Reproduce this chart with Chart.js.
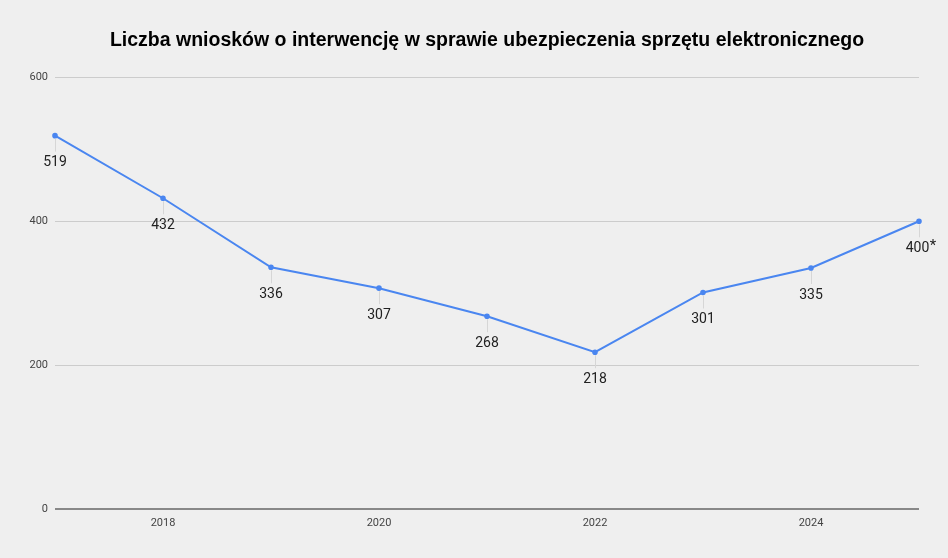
<!DOCTYPE html>
<html lang="pl">
<head>
<meta charset="UTF-8" />
<title>Liczba wniosków o interwencję</title>
<script src="https://cdn.jsdelivr.net/npm/chart.js"></script>
<style>
  html, body { margin: 0; padding: 0; background: #efefef; }
  #wrap { width: 948px; height: 558px; }
</style>
</head>
<body>
<div id="wrap"><canvas id="lineChart"></canvas></div>
<script>
// dane z wykresu
const years = ['2017', '2018', '2019', '2020', '2021', '2022', '2023', '2024', '2025'];
const wnioski = [519, 432, 336, 307, 268, 218, 301, 335, 400];
const pointLabels = ['519', '432', '336', '307', '268', '218', '301', '335', '400*'];
const yTicks = [0, 200, 400, 600];
const shownYears = ['2018', '2020', '2022', '2024'];

// etykiety pod punktami z cienką kreską
const valueLabels = {
  id: 'valueLabels',
  afterDatasetsDraw(chart) {
    const ctx = chart.ctx;
    const meta = chart.getDatasetMeta(0);
    ctx.save();
    meta.data.forEach((pt, i) => {
      ctx.strokeStyle = '#d6d6d6';
      ctx.lineWidth = 1;
      ctx.beginPath();
      ctx.moveTo(Math.round(pt.x) + 0.5, pt.y + 3);
      ctx.lineTo(Math.round(pt.x) + 0.5, pt.y + 16);
      ctx.stroke();
      ctx.fillStyle = '#222';
      ctx.font = '14px Roboto';
      ctx.textAlign = 'center';
      ctx.textBaseline = 'middle';
      let txt = pointLabels[i];
      const star = txt.endsWith('*');
      if (star) txt = txt.slice(0, -1);
      const x = pt.x - (star ? 1.5 : 0);
      ctx.fillText(txt, x, pt.y + 27);
      if (star) {
        // gwiazdka jako indeks górny
        const w = ctx.measureText(txt).width;
        ctx.textAlign = 'left';
        ctx.font = '15px Roboto';
        ctx.fillText('*', x + w / 2 + 0.5, pt.y + 25);
      }
    });
    ctx.restore();
  }
};

new Chart(document.getElementById('lineChart'), {
  type: 'line',
  data: {
    labels: years,
    datasets: [{
      data: wnioski,
      borderColor: '#4a86f0',
      backgroundColor: '#4a86f0',
      borderWidth: 2,
      pointRadius: 1.8,
      pointHoverRadius: 3,
      tension: 0
    }]
  },
  options: {
    responsive: true,
    maintainAspectRatio: false,
    animation: false,
    layout: { padding: { left: 0, right: 29, top: 0, bottom: 0 } },
    plugins: {
      legend: { display: false },
      tooltip: { enabled: false },
      title: {
        display: true,
        fullSize: false,
        text: 'Liczba wniosków o interwencję w sprawie ubezpieczenia sprzętu elektronicznego',
        color: '#000',
        font: { family: 'Liberation Sans', size: 19.5, weight: 'bold' },
        padding: { top: 29, bottom: 25 }
      }
    },
    scales: {
      x: {
        offset: false,
        grid: { display: false, drawTicks: false },
        border: { display: false },
        ticks: {
          autoSkip: false,
          maxRotation: 0,
          padding: 8,
          color: '#444',
          font: { family: 'Roboto', size: 11 },
          callback: function (v, i) {
            const y = years[i];
            return shownYears.includes(y) ? y : '';
          }
        },
        afterFit: s => { s.height = 49; }
      },
      y: {
        min: yTicks[0],
        max: yTicks[yTicks.length - 1],
        grid: {
          drawTicks: false,
          color: ctx => ctx.tick && ctx.tick.value === 0 ? '#888' : '#cccccc',
          lineWidth: ctx => ctx.tick && ctx.tick.value === 0 ? 2 : 1
        },
        border: { display: false },
        ticks: {
          stepSize: yTicks[1] - yTicks[0],
          autoSkip: false,
          padding: 7,
          color: '#444',
          font: { family: 'Roboto', size: 11 }
        },
        afterFit: s => { s.width = 55; }
      }
    }
  },
  plugins: [valueLabels]
});
</script>
</body>
</html>
